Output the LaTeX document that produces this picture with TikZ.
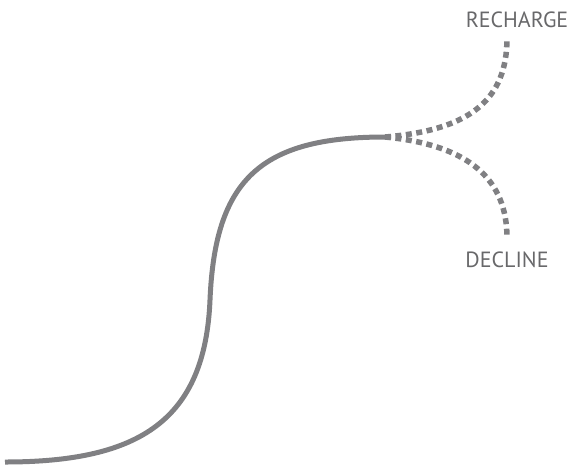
\documentclass[tikz,border=0pt]{standalone}
\usepackage{fontspec}
\setmainfont{PT Sans}
\definecolor{curvegray}{HTML}{808083}
\definecolor{textgray}{HTML}{68686A}
\begin{document}
\begin{tikzpicture}[x=1pt,y=-1pt,
  curve/.style={draw=curvegray,line width=5pt},
  branch/.style={draw=curvegray,line width=5.5pt,dash pattern=on 6pt off 4.5pt},
  lbl/.style={text=textgray,font=\fontsize{22}{24}\selectfont,inner sep=0pt}]
\useasboundingbox (0,0) rectangle (573,469);
\coordinate (s) at (5,462);
\coordinate (m) at (210,300);
\coordinate (f) at (385,137);
\coordinate (r) at (507,38);
\coordinate (d) at (507,238);
\draw[curve] (s) .. controls (140,462) and (205,420) .. (m)
  .. controls (215,180) and (260,137) .. (f);
\draw[branch] (f) .. controls (470,130) and (507,100) .. (r);
\draw[branch] (f) .. controls (470,145) and (507,180) .. (d);
\node[lbl] (rl) at (517,20) {RECHARGE};
\node[lbl] (dl) at (507,260) {DECLINE};
\end{tikzpicture}
\end{document}
